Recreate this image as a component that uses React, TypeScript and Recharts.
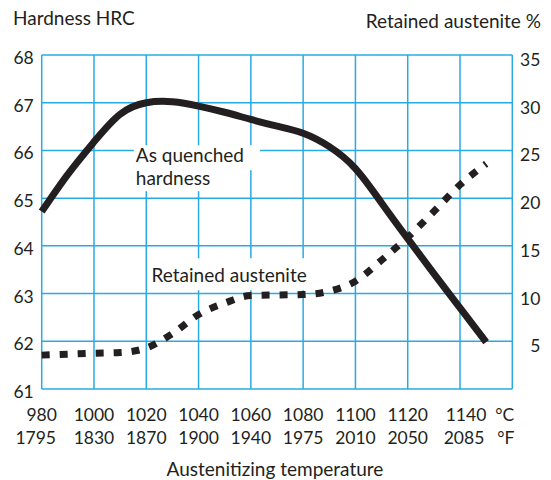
import { ComposedChart, Line, XAxis, YAxis, CartesianGrid, ReferenceDot } from "recharts"

// temperatures (°C) at which the curves were read
const temps = [980, 990, 1000, 1010, 1020, 1030, 1040, 1050, 1060, 1070, 1080, 1090, 1100, 1110, 1120, 1130, 1140, 1150]
// as quenched hardness, HRC
const hardness = [64.72, 65.5, 66.18, 66.76, 67.0, 67.02, 66.93, 66.8, 66.65, 66.51, 66.36, 66.08, 65.62, 64.9, 64.15, 63.42, 62.7, 61.98]
// retained austenite, %
const austenite = [3.55, 3.65, 3.75, 3.82, 4.3, 5.8, 7.8, 9.0, 9.8, 9.85, 9.9, 10.25, 11.3, 13.5, 15.9, 18.6, 21.4, 23.6]

const celsiusTicks = [980, 1000, 1020, 1040, 1060, 1080, 1100, 1120, 1140, 1160]
const celsiusLabels = ["980", "1000", "1020", "1040", "1060", "1080", "1100", "1120", "1140", "°C"]
const fahrenheitLabels = ["1795", "1830", "1870", "1900", "1940", "1975", "2010", "2050", "2085", "°F"]
const hardnessTicks = [61, 62, 63, 64, 65, 66, 67, 68]
const austeniteTicks = [5, 10, 15, 20, 25, 30, 35]

const rows = temps.map((t, i) => ({ temp: t, hardness: hardness[i], austenite: austenite[i] }))

const INK = "#231f20"
const GRID = "#29abe2"
const FONT = "Lato"
const TICK = 17.5
const TITLE = 19

const TempTick = ({ x, y, payload }: any) => {
  const i = celsiusTicks.indexOf(payload.value)
  const last = i === celsiusTicks.length - 1
  const anchor = last ? "end" : "middle"
  const dxC = last ? 2 : i === 8 ? 6 : 0
  const dxF = last ? 2 : i === 0 ? -6 : i === 8 ? 4 : 0
  return (
    <g fill={INK} fontFamily={FONT} fontSize={TICK}>
      <text x={x + dxC} y={y + 32} textAnchor={anchor}>{celsiusLabels[i]}</text>
      <text x={x + dxF} y={y + 55} textAnchor={anchor}>{fahrenheitLabels[i]}</text>
    </g>
  )
}

const LeftTick = ({ x, y, payload }: any) => (
  <text x={x} y={y + 9} textAnchor="end" fill={INK} fontFamily={FONT} fontSize={TICK}>
    {payload.value}
  </text>
)

const RightTick = ({ x, y, payload }: any) => (
  <text x={x + 28} y={y + 11} textAnchor="end" fill={INK} fontFamily={FONT} fontSize={TICK}>
    {payload.value}
  </text>
)

const QuenchedNote = ({ viewBox }: any) => {
  const { x, y } = viewBox
  return (
    <g>
      <rect x={x - 2} y={y} width={126} height={25} fill="#fff" />
      <rect x={x - 2} y={y + 25} width={100} height={21} fill="#fff" />
      <text x={x} y={y + 17} fill={INK} fontFamily={FONT} fontSize={TITLE}>As quenched</text>
      <text x={x} y={y + 40} fill={INK} fontFamily={FONT} fontSize={TITLE}>hardness</text>
    </g>
  )
}

const AusteniteNote = ({ viewBox }: any) => {
  const { x, y } = viewBox
  return (
    <g>
      <rect x={x - 3} y={y} width={164} height={32} fill="#fff" />
      <text x={x} y={y + 24} fill={INK} fontFamily={FONT} fontSize={TITLE}>Retained austenite</text>
    </g>
  )
}

export default function App() {
  return (
    <div style={{ position: "absolute", left: 0, top: 0, width: 551, height: 480, background: "#fff" }}>
      <ComposedChart width={551} height={480} data={rows} margin={{ top: 55, right: 0, bottom: 0, left: 0 }}>
        <CartesianGrid yAxisId="left" stroke={GRID} strokeWidth={1.5} />
        <XAxis
          dataKey="temp"
          type="number"
          domain={[980, 1160]}
          ticks={celsiusTicks}
          height={91}
          axisLine={false}
          tickLine={false}
          tickSize={0}
          tickMargin={0}
          tick={<TempTick />}
          interval={0}
          label={{
            content: ({ viewBox }: any) => (
              <text x={275} y={viewBox.y + viewBox.height - 4} textAnchor="middle" fill={INK} fontFamily={FONT} fontSize={TITLE}>
                Austenitizing temperature
              </text>
            ),
          }}
        />
        <YAxis
          yAxisId="left"
          type="number"
          domain={[61, 68]}
          ticks={hardnessTicks}
          width={41.7}
          axisLine={false}
          tickLine={false}
          tickSize={0}
          tickMargin={8}
          tick={<LeftTick />}
          interval={0}
          label={{
            content: ({ viewBox }: any) => (
              <text x={13} y={viewBox.y - 30} fill={INK} fontFamily={FONT} fontSize={TITLE}>
                Hardness HRC
              </text>
            ),
          }}
        />
        <YAxis
          yAxisId="right"
          orientation="right"
          type="number"
          domain={[0, 35]}
          ticks={austeniteTicks}
          width={38.7}
          axisLine={false}
          tickLine={false}
          tickSize={0}
          tickMargin={0}
          tick={<RightTick />}
          interval={0}
          label={{
            content: ({ viewBox }: any) => (
              <text x={541} y={viewBox.y - 27} textAnchor="end" fill={INK} fontFamily={FONT} fontSize={TITLE}>
                Retained austenite %
              </text>
            ),
          }}
        />
        <ReferenceDot yAxisId="left" x={1016} y={66.11} r={0} fill="none" stroke="none" ifOverflow="visible" label={{ content: QuenchedNote }} />
        <ReferenceDot yAxisId="left" x={1022} y={63.74} r={0} fill="none" stroke="none" ifOverflow="visible" label={{ content: AusteniteNote }} />
        <Line
          yAxisId="left"
          type="natural"
          dataKey="hardness"
          stroke={INK}
          strokeWidth={7}
          dot={false}
          activeDot={false}
          isAnimationActive={false}
        />
        <Line
          yAxisId="right"
          type="monotone"
          dataKey="austenite"
          stroke={INK}
          strokeWidth={7}
          strokeDasharray="8 10"
          dot={false}
          activeDot={false}
          isAnimationActive={false}
        />
      </ComposedChart>
    </div>
  )
}
